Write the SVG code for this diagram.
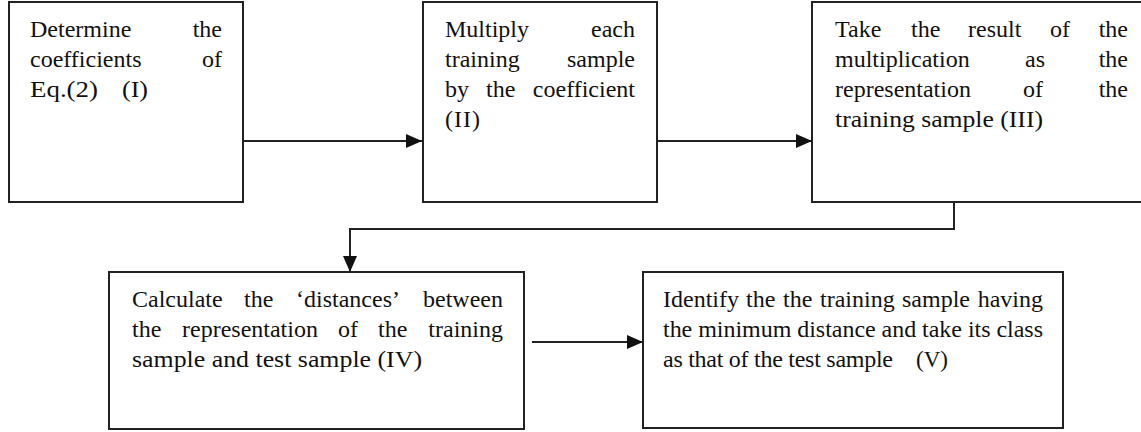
<svg xmlns="http://www.w3.org/2000/svg" width="1141" height="432" viewBox="0 0 1141 432">
<style>
.box{fill:#fff;stroke:#222;stroke-width:2}
.t{font-family:"Liberation Serif","Times New Roman",serif;font-size:24px;fill:#111}
.e{text-anchor:end}
.c{fill:none;stroke:#222;stroke-width:2}
</style>
<defs>
<marker id="ah" markerUnits="userSpaceOnUse" markerWidth="16" markerHeight="14" refX="16" refY="7" orient="auto">
<path d="M0,0 L16,7 L0,14 Z" fill="#111"/>
</marker>
</defs>
<rect width="1141" height="432" fill="#fff"/>
<g id="connectors">
<path class="c" d="M243,141 H422" marker-end="url(#ah)"/>
<path class="c" d="M657,141 H812" marker-end="url(#ah)"/>
<path class="c" d="M954,202 V229 H350 V272" marker-end="url(#ah)"/>
<path class="c" d="M532,342 H643" marker-end="url(#ah)"/>
</g>
<g id="node1">
<rect class="box" x="9" y="2" width="234" height="200"/>
<text class="t" y="37"><tspan x="30">Determine</tspan><tspan class="e" x="222">the</tspan></text>
<text class="t" y="67"><tspan x="30">coefficients</tspan><tspan class="e" x="222">of</tspan></text>
<text class="t" x="30" y="97" textLength="68" lengthAdjust="spacingAndGlyphs">Eq.(2)</text>
<text class="t" x="122" y="97" textLength="26" lengthAdjust="spacingAndGlyphs">(I)</text>
</g>
<g id="node2">
<rect class="box" x="423" y="2" width="234" height="200"/>
<text class="t" y="37"><tspan x="445">Multiply</tspan><tspan class="e" x="635">each</tspan></text>
<text class="t" y="67"><tspan x="445">training</tspan><tspan class="e" x="635">sample</tspan></text>
<text class="t" y="97"><tspan x="445">by</tspan><tspan x="486">the</tspan><tspan class="e" x="635">coefficient</tspan></text>
<text class="t" x="445" y="127" textLength="35">(II)</text>
</g>
<g id="node3">
<rect class="box" x="812" y="2" width="340" height="200"/>
<text class="t" y="37"><tspan x="835">Take</tspan><tspan x="911">the</tspan><tspan x="968">result</tspan><tspan x="1050">of</tspan><tspan class="e" x="1128">the</tspan></text>
<text class="t" y="67"><tspan x="835">multiplication</tspan><tspan x="1025">as</tspan><tspan class="e" x="1128">the</tspan></text>
<text class="t" y="97"><tspan x="835">representation</tspan><tspan x="1023">of</tspan><tspan class="e" x="1128">the</tspan></text>
<text class="t" x="835" y="127" textLength="208" lengthAdjust="spacingAndGlyphs">training sample (III)</text>
</g>
<g id="node4">
<rect class="box" x="109" y="272" width="415" height="157"/>
<text class="t" y="307"><tspan x="132">Calculate</tspan><tspan x="244">the</tspan><tspan x="296">‘distances’</tspan><tspan class="e" x="503">between</tspan></text>
<text class="t" y="337"><tspan x="132">the</tspan><tspan x="182">representation</tspan><tspan x="338">of</tspan><tspan x="378">the</tspan><tspan class="e" x="503">training</tspan></text>
<text class="t" x="132" y="367" textLength="290" lengthAdjust="spacingAndGlyphs">sample and test sample (IV)</text>
</g>
<g id="node5">
<rect class="box" x="643" y="272" width="420" height="156"/>
<text class="t" y="307"><tspan x="663">Identify</tspan><tspan x="746">the</tspan><tspan x="783">the</tspan><tspan x="820">training</tspan><tspan x="902">sample</tspan><tspan class="e" x="1043">having</tspan></text>
<text class="t" x="663" y="337" textLength="380">the minimum distance and take its class</text>
<text class="t" x="663" y="367" textLength="230">as that of the test sample</text>
<text class="t" x="916" y="367" textLength="32" lengthAdjust="spacingAndGlyphs">(V)</text>
</g>
</svg>
